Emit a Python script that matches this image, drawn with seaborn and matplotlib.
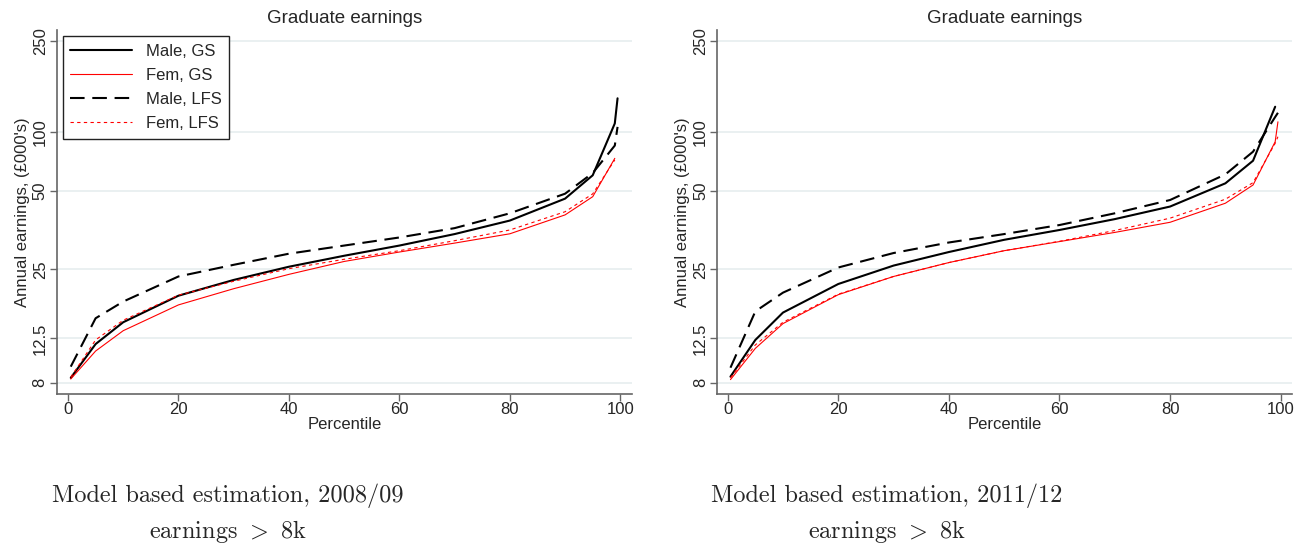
import matplotlib
matplotlib.use("Agg")
import matplotlib.pyplot as plt
from matplotlib.ticker import FixedLocator, FixedFormatter, NullLocator
import pandas as pd
import seaborn as sns

# percentiles
pct_full = [0.5, 5, 10, 20, 30, 40, 50, 60, 70, 80, 90, 95, 99, 99.5]
pct_to99 = [0.5, 5, 10, 20, 30, 40, 50, 60, 70, 80, 90, 95, 99]

# 2008/09 (annual earnings, £000's)
male_gs_0809 = [8.4, 11.8, 14.7, 19.2, 22.5, 25.7, 28.7, 31.8, 35.7, 40.9, 51.0, 64.5, 108.7, 140]
fem_gs_0809 = [8.3, 11.0, 13.5, 17.5, 20.6, 23.8, 27.1, 29.8, 32.6, 35.8, 43.3, 52.0, 76.5]
male_lfs_0809 = [9.4, 15.3, 18.1, 23.3, 26.2, 29.3, 31.8, 34.5, 37.9, 44.0, 53.6, 66.0, 87.0, 105]
fem_lfs_0809 = [8.45, 12.3, 15.0, 19.3, 22.2, 25.2, 27.7, 30.2, 33.4, 37.2, 44.7, 53.5, 75.3]

# 2011/12
male_gs_1112 = [8.5, 12.3, 16.2, 21.6, 26.0, 29.8, 33.7, 37.2, 41.5, 47.1, 59.5, 74.7, 128.6]
fem_gs_1112 = [8.25, 11.3, 14.5, 19.4, 23.3, 26.8, 30.2, 33.1, 36.3, 40.2, 48.7, 58.5, 90.4, 110.5]
male_lfs_1112 = [9.3, 16.4, 19.8, 25.5, 29.5, 32.8, 35.7, 39.1, 44.0, 50.3, 65.1, 81.8, 116, 121]
fem_lfs_1112 = [8.4, 11.7, 14.7, 19.5, 23.3, 26.8, 30.2, 33.2, 37.0, 41.9, 50.7, 59.9, 89, 95.1]

series_names = ["Male, GS", "Fem, GS", "Male, LFS", "Fem, LFS"]
ytick_vals = [8, 12.5, 25, 55, 100, 250]
ytick_labels = ["8", "12.5", "25", "50", "100", "250"]
xtick_vals = [0, 20, 40, 60, 80, 100]
captions = ["Model based estimation, 2008/09", "Model based estimation, 2011/12"]
subcaption = r"earnings $>$ 8k"

styles = {
    "Male, GS": dict(color="black", lw=1.5, ls="-"),
    "Fem, GS": dict(color="red", lw=0.8, ls="-"),
    "Male, LFS": dict(color="black", lw=1.5, ls=(0, (7, 3.7))),
    "Fem, LFS": dict(color="red", lw=0.8, ls=(0, (3, 3))),
}


def make_frame(panel):
    rows = []
    for name, (xs, ys) in zip(series_names, panel):
        for x, y in zip(xs, ys):
            rows.append({"series": name, "Percentile": x, "earn": y})
    return pd.DataFrame(rows)


panels = [
    make_frame([(pct_full, male_gs_0809), (pct_to99, fem_gs_0809),
                (pct_full, male_lfs_0809), (pct_to99, fem_lfs_0809)]),
    make_frame([(pct_to99, male_gs_1112), (pct_full, fem_gs_1112),
                (pct_full, male_lfs_1112), (pct_full, fem_lfs_1112)]),
]

sns.set_style("white")
plt.rcParams["font.family"] = ["Liberation Sans", "DejaVu Sans"]
plt.rcParams["mathtext.fontset"] = "cm"

fig = plt.figure(figsize=(13.08, 5.44), dpi=100)
axes_pos = [[0.04358, 0.27629, 0.43937, 0.66856],
            [0.54839, 0.27629, 0.43915, 0.66856]]
xlims = [(-1.99, 102.06), (-1.88, 101.99)]
cap_x = [228 / 1308, 887 / 1308]

for i, df in enumerate(panels):
    ax = fig.add_axes(axes_pos[i])
    for name in series_names:
        sub = df[df["series"] == name]
        st = styles[name]
        sns.lineplot(data=sub, x="Percentile", y="earn", ax=ax,
                     color=st["color"], linewidth=st["lw"], linestyle=st["ls"],
                     label=name, estimator=None, sort=False)
    ax.set_yscale("log")
    ax.set_ylim(7.16, 278.4)
    ax.set_xlim(*xlims[i])
    ax.yaxis.set_major_locator(FixedLocator(ytick_vals))
    ax.yaxis.set_major_formatter(FixedFormatter(ytick_labels))
    ax.yaxis.set_minor_locator(NullLocator())
    ax.set_xticks(xtick_vals)
    ax.tick_params(axis="both", which="major", labelsize=12, length=4.7,
                   width=1, color="#666666", bottom=True, left=True)
    ax.tick_params(axis="x", pad=1)
    ax.tick_params(axis="y", labelrotation=90, pad=2)
    for lab in ax.get_yticklabels():
        lab.set_va("center")
    ax.yaxis.grid(True, color="#e6eeef", lw=1.2)
    ax.xaxis.grid(False)
    ax.set_axisbelow(True)
    sns.despine(ax=ax)
    for sp in ["left", "bottom"]:
        ax.spines[sp].set_color("#666666")
        ax.spines[sp].set_linewidth(1.2)
    ax.set_xlabel("Percentile", fontsize=12, labelpad=0)
    ax.set_ylabel("Annual earnings, (\u00a3000's)", fontsize=12, labelpad=2)
    ax.set_title("Graduate earnings", fontsize=13.5, y=1 + 7.3 / 363.7, pad=0)
    if i == 0:
        leg = ax.legend(loc="upper left", bbox_to_anchor=(0.0099, 0.9835),
                        borderaxespad=0, fontsize=12, handlelength=3.7,
                        handletextpad=0.85, labelspacing=0.55, borderpad=0.45,
                        fancybox=False, framealpha=1, edgecolor="#222222")
        leg.get_frame().set_linewidth(1.0)
    else:
        ax.get_legend().remove()

    fig.text(cap_x[i], 1 - 502 / 544, captions[i], family=["cmr10"],
             fontsize=17.5, ha="center", va="baseline")
    fig.text(cap_x[i], 1 - 538 / 544, subcaption, family=["cmr10"],
             fontsize=17.5, ha="center", va="baseline")

fig.savefig("out.png", dpi=100)
